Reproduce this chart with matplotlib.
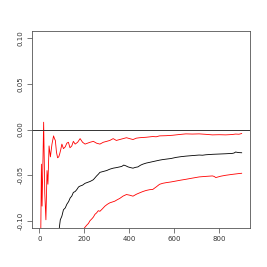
import matplotlib
matplotlib.use("Agg")
import matplotlib.pyplot as plt

# running estimate (black) with upper / lower bounds (red)
est_x = [85, 93, 100, 107, 115, 122, 130, 137, 144, 151, 159, 166, 174, 181, 192, 203, 214, 225,
         233, 240, 247, 254, 262, 269, 284, 299, 313, 328, 342, 357, 366, 375, 384, 394, 405, 416,
         427, 438, 449, 460, 475, 490, 512, 534, 548, 563, 585, 607, 629, 651, 680, 710, 725, 740,
         770, 799, 828, 857, 865, 872, 885, 899]
est_y = [-0.115, -0.099, -0.095, -0.088, -0.086, -0.082, -0.079, -0.075, -0.073, -0.069, -0.068,
         -0.066, -0.063, -0.062, -0.061, -0.059, -0.058, -0.057, -0.056, -0.055, -0.053, -0.051,
         -0.049, -0.047, -0.046, -0.045, -0.0435, -0.0424, -0.0418, -0.041, -0.0405, -0.039,
         -0.0398, -0.041, -0.0418, -0.0424, -0.0415, -0.041, -0.0392, -0.038, -0.0368, -0.036,
         -0.0348, -0.0336, -0.0330, -0.0325, -0.0318, -0.0306, -0.0298, -0.0292, -0.0286, -0.0280,
         -0.0282, -0.0277, -0.0272, -0.0269, -0.0266, -0.0262, -0.0258, -0.0247, -0.0253, -0.0255]

up_x = [6, 9, 12, 15, 19, 24, 29, 34, 38, 43, 49, 56, 63, 67, 71, 76, 81, 86, 90, 95, 100, 107,
        115, 122, 129, 136, 144, 151, 159, 170, 181, 192, 203, 214, 225, 240, 254, 269, 284, 299,
        313, 328, 342, 357, 372, 387, 401, 416, 431, 446, 475, 504, 519, 534, 563, 593, 622, 651,
        680, 710, 740, 769, 799, 828, 857, 872, 887, 899]
up_y = [-0.12, -0.038, -0.084, -0.045, 0.008, -0.07, -0.099, -0.045, -0.06, -0.018, -0.03,
        -0.016, -0.007, -0.010, -0.012, -0.025, -0.031, -0.030, -0.027, -0.022, -0.016, -0.021,
        -0.019, -0.015, -0.014, -0.020, -0.018, -0.013, -0.016, -0.014, -0.010, -0.014, -0.016,
        -0.015, -0.014, -0.013, -0.015, -0.016, -0.014, -0.013, -0.012, -0.010, -0.012, -0.011,
        -0.010, -0.009, -0.010, -0.011, -0.0095, -0.009, -0.0085, -0.0077, -0.0080, -0.0070,
        -0.0068, -0.0063, -0.0055, -0.0048, -0.0050, -0.0048, -0.0053, -0.0059, -0.0057, -0.0059,
        -0.0055, -0.0050, -0.0052, -0.0044]

lo_x = [190, 200, 210, 218, 225, 233, 240, 247, 254, 262, 269, 280, 291, 302, 313, 324, 335,
        346, 357, 372, 387, 401, 416, 431, 446, 460, 475, 490, 504, 519, 534, 548, 563, 585, 607,
        629, 651, 680, 710, 740, 769, 777, 784, 806, 828, 857, 887, 899]
lo_y = [-0.112, -0.108, -0.105, -0.103, -0.100, -0.098, -0.096, -0.093, -0.0915, -0.089, -0.0897,
        -0.087, -0.0841, -0.082, -0.0804, -0.0795, -0.0786, -0.077, -0.0756, -0.073, -0.0713,
        -0.072, -0.0731, -0.071, -0.0694, -0.068, -0.0668, -0.066, -0.0657, -0.063, -0.0601,
        -0.059, -0.0583, -0.0575, -0.0565, -0.0555, -0.0546, -0.0533, -0.0520, -0.0514, -0.0509,
        -0.0515, -0.0527, -0.0512, -0.0502, -0.0492, -0.0483, -0.0480]

x_ticks = [0, 200, 400, 600, 800]
y_ticks = [-0.10, -0.05, 0.00, 0.05, 0.10]

fig = plt.figure(figsize=(2.67, 2.67), dpi=100)
ax = fig.add_axes([31.5 / 267, 1 - 228 / 267, (250 - 31.5) / 267, (228 - 31) / 267])

ax.plot(est_x, est_y, color="black", lw=0.6)
ax.plot(up_x, up_y, color="red", lw=0.6)
ax.plot(lo_x, lo_y, color="red", lw=0.6)
ax.axhline(0, color="#333333", lw=0.7)

ax.set_xlim(-35, 936)
ax.set_ylim(-0.108, 0.108)
ax.set_xticks(x_ticks)
ax.set_yticks(y_ticks)
ax.set_xticklabels([str(v) for v in x_ticks])
ax.set_yticklabels([f"{v:.2f}" for v in y_ticks], rotation=90, va="center")
ax.tick_params(axis="both", labelsize=5, length=3.5, width=0.5, pad=2.5,
               color="#444444", labelcolor="#333333")
for s in ax.spines.values():
    s.set_linewidth(0.6)
    s.set_color("#555555")

fig.savefig("out.png", dpi=100)
